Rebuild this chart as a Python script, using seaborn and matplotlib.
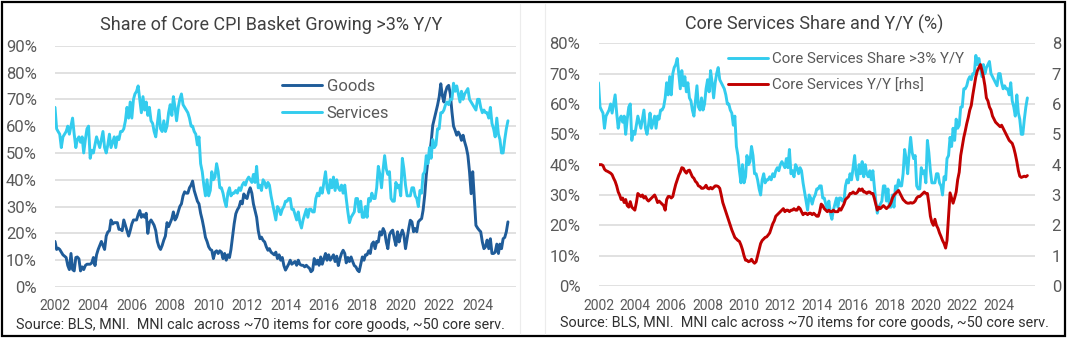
import numpy as np
import pandas as pd
import matplotlib
matplotlib.use("Agg")
import matplotlib.pyplot as plt
import seaborn as sns
from matplotlib.patches import Rectangle
from matplotlib.lines import Line2D

# ---------------- data (monthly, Jan 2002 onward) ----------------
start_month = "2002-01-01"

goods_share = [
    17, 14, 14.5, 14, 13, 12, 11.5, 11, 8, 6.5,
    12.5, 6.5, 6, 11, 11.2, 10.5, 6, 7.5, 6.5, 8,
    8.5, 8.5, 8.5, 9, 11, 8, 12, 14, 15.5, 17,
    15.5, 14, 19, 20.5, 21, 25, 23.5, 24, 24, 24,
    21.5, 21.5, 21, 25, 23, 21, 19, 21, 23.5, 25,
    25, 25, 27, 28.5, 26, 27, 26, 27.5, 20, 24,
    25, 24, 23, 21, 17, 15, 14, 15.5, 17.5, 19,
    24, 22.5, 24, 25.5, 28, 25, 26, 28, 30, 31,
    34, 35.5, 35, 35, 37, 38, 39.5, 36, 34, 32,
    31, 27.5, 25, 22, 18.5, 17, 15, 14, 13.7, 10.6,
    13, 13.5, 12.5, 13.5, 13, 10.6, 12.5, 10, 12, 11,
    14, 19, 23.6, 27.3, 28.8, 29.8, 32, 31, 34.7, 33.5,
    33, 35.5, 37, 35, 31, 28.5, 26, 21, 18, 18.6,
    17.4, 16.8, 15, 13.7, 14.3, 13, 12.5, 12, 13, 10.6,
    12, 10, 11, 8, 6.3, 7.5, 8.5, 10, 8.5, 9,
    9.5, 8.1, 10, 8.5, 8.1, 8.1, 7.5, 8.1, 7.5, 7,
    5.7, 6.3, 10.6, 8.5, 10, 8.1, 11.2, 8.5, 10.6, 12.5,
    10, 12, 10, 11, 12, 9.5, 11.5, 8, 10.6, 12.5,
    13.7, 12.5, 9, 11, 9.5, 11.2, 9.5, 8, 7.5, 6.3,
    5.7, 8.5, 11.2, 10, 12, 12, 13.5, 12.5, 16, 16.8,
    14.3, 17, 16.8, 20.6, 19.4, 21.8, 20.6, 16.8, 14.3, 19.4,
    20.6, 21.2, 18, 15.5, 20.6, 16.8, 19.4, 21.2, 19.4, 14.3,
    18, 21.8, 24.9, 24.3, 20.6, 21.8, 20.6, 24.3, 25, 25.5,
    28.6, 34.2, 41.7, 47.3, 49.1, 54, 60.3, 62.8, 65.3, 67.8,
    70.9, 75.8, 71.5, 69, 72.7, 74.6, 75.2, 72, 65.3, 60,
    58.4, 56.6, 57.8, 56.6, 54.7, 56.6, 54.1, 52, 49.1, 43,
    34.8, 43, 33, 23, 22, 21.2, 20.6, 16.8, 14.3, 15,
    17.5, 14.3, 18, 12.5, 12.5, 13, 16, 12.5, 16, 14.3,
    18, 18.5, 20.6, 24.3,
]

services_share = [
    67, 59, 58, 57, 52, 56, 57, 58, 60, 57,
    60, 63, 57, 52, 55, 56, 54, 56, 50, 55,
    59, 60, 48, 51, 50, 53, 56, 54, 52, 55,
    58, 52, 50, 53, 57, 52, 54, 56, 52, 56,
    55, 58, 58, 59, 62, 67, 63, 69, 63, 70,
    72, 73, 75, 70, 65, 71, 66, 69, 64, 67,
    62, 61, 58, 56, 61, 66, 59, 58, 62, 58,
    60, 65, 68, 64, 71, 67, 62, 67, 70, 72,
    68, 67, 66, 65, 63, 60, 60, 58, 57, 53,
    56, 46, 43, 38, 34, 40, 34, 36, 43, 40,
    41, 46, 43, 37, 37, 35, 32, 30, 35, 37,
    34, 35, 35, 36, 35, 37, 36, 38, 39, 38,
    40, 41, 40, 39, 42, 39, 45, 37, 38, 36,
    40, 39, 37, 39, 38, 34, 31, 28, 25, 30,
    29, 27, 29, 30, 32, 32, 33, 33, 29, 29,
    27, 25, 28, 24, 22, 25, 27, 29, 26, 29,
    29, 28, 28, 33, 35, 34, 37, 35, 39, 43,
    37, 35, 40, 37, 41, 36, 40, 37, 36, 38,
    35, 38, 33, 28, 24, 26, 27, 28, 33, 33,
    28, 32, 26, 26, 30, 26, 33, 32, 35, 33,
    33, 37, 45, 42, 37, 44, 49, 44, 42, 43,
    33, 32, 32, 39, 37, 38, 34, 48, 44, 38,
    34, 34, 34, 37, 37, 34, 33, 30, 36, 35,
    42, 43, 49, 46, 52, 48, 55, 52, 53, 59,
    59, 65, 65, 66, 68, 69, 68, 70, 70, 76,
    73, 75, 72, 69, 73, 70, 72, 73, 74, 70,
    69, 68, 67, 66, 70, 70, 67, 65, 66, 65,
    65, 63, 67, 61, 59, 56, 63, 57, 55, 50,
    50, 55, 59, 62,
]

core_services_yy = [
    4.0, 4.0, 4.0, 3.97, 3.85, 3.8, 3.78, 3.75, 3.72, 3.67,
    3.55, 3.45, 3.3, 3.1, 3.0, 2.85, 2.9, 2.75, 2.85, 2.65,
    2.6, 2.78, 2.6, 2.55, 2.5, 2.75, 3.05, 3.0, 2.95, 3.0,
    2.9, 2.95, 2.85, 2.8, 2.85, 2.9, 2.95, 3.0, 2.9, 2.75,
    2.8, 2.75, 2.7, 2.65, 2.5, 2.85, 2.95, 2.95, 2.9, 2.95,
    3.15, 3.35, 3.5, 3.65, 3.75, 3.9, 3.88, 3.78, 3.72, 3.8,
    3.82, 3.7, 3.6, 3.55, 3.45, 3.4, 3.3, 3.28, 3.22, 3.22,
    3.25, 3.32, 3.22, 3.2, 3.25, 3.2, 3.25, 3.3, 3.3, 3.28,
    3.22, 3.0, 2.75, 2.6, 2.45, 2.3, 2.15, 2.0, 1.85, 1.72,
    1.6, 1.55, 1.5, 1.47, 1.35, 1.2, 1.0, 0.85, 0.85, 0.8,
    0.82, 0.88, 0.8, 0.75, 0.8, 1.0, 1.2, 1.4, 1.5, 1.55,
    1.6, 1.62, 1.68, 1.75, 1.9, 2.05, 2.15, 2.3, 2.35, 2.4,
    2.45, 2.5, 2.55, 2.45, 2.5, 2.5, 2.45, 2.5, 2.5, 2.55,
    2.5, 2.5, 2.6, 2.55, 2.45, 2.35, 2.4, 2.4, 2.35, 2.4,
    2.4, 2.35, 2.4, 2.35, 2.3, 2.3, 2.45, 2.7, 2.65, 2.55,
    2.5, 2.45, 2.5, 2.45, 2.45, 2.5, 2.45, 2.45, 2.45, 2.55,
    2.5, 2.6, 2.7, 2.85, 2.9, 2.95, 3.05, 3.05, 3.1, 3.05,
    3.05, 3.1, 3.2, 3.15, 3.2, 3.1, 3.1, 3.05, 3.1, 3.1,
    3.05, 3.05, 2.9, 2.7, 2.5, 2.6, 2.55, 2.6, 2.65, 2.6,
    2.55, 2.6, 2.65, 2.75, 2.9, 3.0, 3.05, 3.1, 3.15, 3.05,
    2.95, 2.85, 2.8, 2.75, 2.73, 2.73, 2.75, 2.73, 2.75, 2.8,
    2.9, 2.95, 2.95, 3.0, 3.05, 3.1, 3.05, 3.05, 2.73, 2.3,
    2.1, 2.0, 2.2, 2.0, 1.9, 1.75, 1.63, 1.5, 1.4, 1.25,
    1.5, 2.3, 3.07, 2.9, 2.73, 2.9, 3.1, 3.5, 3.75, 4.3,
    4.6, 4.9, 5.1, 5.35, 5.55, 5.8, 5.95, 6.3, 6.6, 6.9,
    7.1, 7.2, 7.3, 7.1, 6.9, 6.6, 6.2, 6.1, 5.9, 5.8,
    5.6, 5.5, 5.4, 5.35, 5.3, 5.25, 5.3, 5.2, 5.1, 5.0,
    4.9, 4.8, 4.75, 4.7, 4.55, 4.35, 4.1, 3.8, 3.62, 3.58,
    3.6, 3.62, 3.6, 3.64,
]

tick_years = [2002, 2004, 2006, 2008, 2010, 2012, 2014, 2016, 2018, 2020, 2022, 2024]
left_title = "Share of Core CPI Basket Growing >3% Y/Y"
right_title = "Core Services Share and Y/Y (%)"
source_note = "Source: BLS, MNI.  MNI calc across ~70 items for core goods, ~50 core serv."
label_goods = "Goods"
label_services = "Services"
label_share = "Core Services Share >3% Y/Y"
label_yy = "Core Services Y/Y [rhs]"

# ---------------- styling ----------------
C_GOODS = "#1F5C99"
C_SERV = "#33CCEE"
C_RED = "#C00000"
C_TICK = "#595959"
C_GRID = "#D9D9D9"

sns.set_theme(style="white")
plt.rcParams["font.family"] = ["Roboto", "DejaVu Sans"]

dates = pd.date_range(start_month, periods=len(services_share), freq="MS")
df = pd.DataFrame({
    "date": dates,
    "goods": goods_share,
    "services": services_share,
    "yy": core_services_yy,
})

W, H = 1067, 339
fig = plt.figure(figsize=(W / 100, H / 100), dpi=100)


def px_axes(x0, x1, ytop, ybot):
    return fig.add_axes([x0 / W, 1 - ybot / H, (x1 - x0) / W, (ybot - ytop) / H])


def style_axis(ax, ymax, step):
    ax.set_xlim(pd.Timestamp("2002-01-01"), pd.Timestamp("2026-01-01"))
    ax.set_ylim(0, ymax)
    ax.set_yticks(np.arange(0, ymax + 0.1, step))
    ax.set_yticklabels([f"{int(v)}%" for v in np.arange(0, ymax + 0.1, step)])
    ax.set_xticks([pd.Timestamp(f"{y}-01-01") for y in tick_years])
    ax.set_xticklabels([str(y) for y in tick_years])
    ax.tick_params(axis="y", length=0, pad=13, labelsize=12, labelcolor=C_TICK)
    ax.tick_params(axis="x", length=0, pad=9, labelsize=10, labelcolor=C_TICK)
    ax.grid(axis="y", color=C_GRID, linewidth=1.1)
    ax.grid(axis="x", visible=False)
    for s in ax.spines.values():
        s.set_visible(False)
    ax.set_xlabel("")
    ax.set_ylabel("")
    ax.set_axisbelow(True)


# ---------------- left chart ----------------
axL = px_axes(55, 516, 45.7, 287)
sns.lineplot(data=df, x="date", y="goods", ax=axL, color=C_GOODS, linewidth=2.1, label=label_goods)
sns.lineplot(data=df, x="date", y="services", ax=axL, color=C_SERV, linewidth=2.1, label=label_services)
style_axis(axL, 90, 10)
axL.legend(loc="upper left", bbox_to_anchor=(0.492, 0.862), frameon=False, fontsize=12,
           labelcolor=C_TICK, handlelength=2.4, handletextpad=0.3, borderpad=0,
           borderaxespad=0, labelspacing=0.7)

# ---------------- right chart ----------------
axR = px_axes(598.5, 1035, 43.3, 286)
sns.lineplot(data=df, x="date", y="services", ax=axR, color=C_SERV, linewidth=2.1)
style_axis(axR, 80, 10)
axR2 = axR.twinx()
sns.lineplot(data=df, x="date", y="yy", ax=axR2, color=C_RED, linewidth=2.1)
axR2.set_ylim(0, 8)
axR2.set_yticks(range(0, 9))
axR2.tick_params(axis="y", length=0, pad=12, labelsize=12, labelcolor=C_TICK)
axR2.set_ylabel("")
axR2.grid(False)
for s in axR2.spines.values():
    s.set_visible(False)
handles = [Line2D([], [], color=C_SERV, linewidth=2.1), Line2D([], [], color=C_RED, linewidth=2.1)]
axR2.legend(handles, [label_share, label_yy], loc="upper left", bbox_to_anchor=(0.297, 0.965),
            frameon=False, fontsize=10.8, labelcolor=C_TICK, handlelength=2.65,
            handletextpad=0.28, borderpad=0, borderaxespad=0, labelspacing=0.85)

# ---------------- titles & notes ----------------
fig.text(271 / W, 1 - 25 / H, left_title, ha="center", va="center", fontsize=13, color="#404040")
fig.text(814 / W, 1 - 24 / H, right_title, ha="center", va="center", fontsize=13, color="#404040")
fig.text(16.5 / W, 1 - 325 / H, source_note, ha="left", va="center", fontsize=10.4, color="#303030")
fig.text(560 / W, 1 - 323 / H, source_note, ha="left", va="center", fontsize=10.4, color="#303030")

# panel separators and outer frame
for xs in (520, 545):
    fig.add_artist(Line2D([xs / W, xs / W], [1 - 4 / H, 1 - 334 / H], color="#ECECEC", linewidth=0.8))
fig.add_artist(Rectangle((1.5 / W, 1 - 336 / H), (1064.5 - 1.5) / W, (336 - 1.5) / H,
                         fill=False, edgecolor="black", linewidth=1.6, transform=fig.transFigure))

fig.savefig("out.png", dpi=100)
